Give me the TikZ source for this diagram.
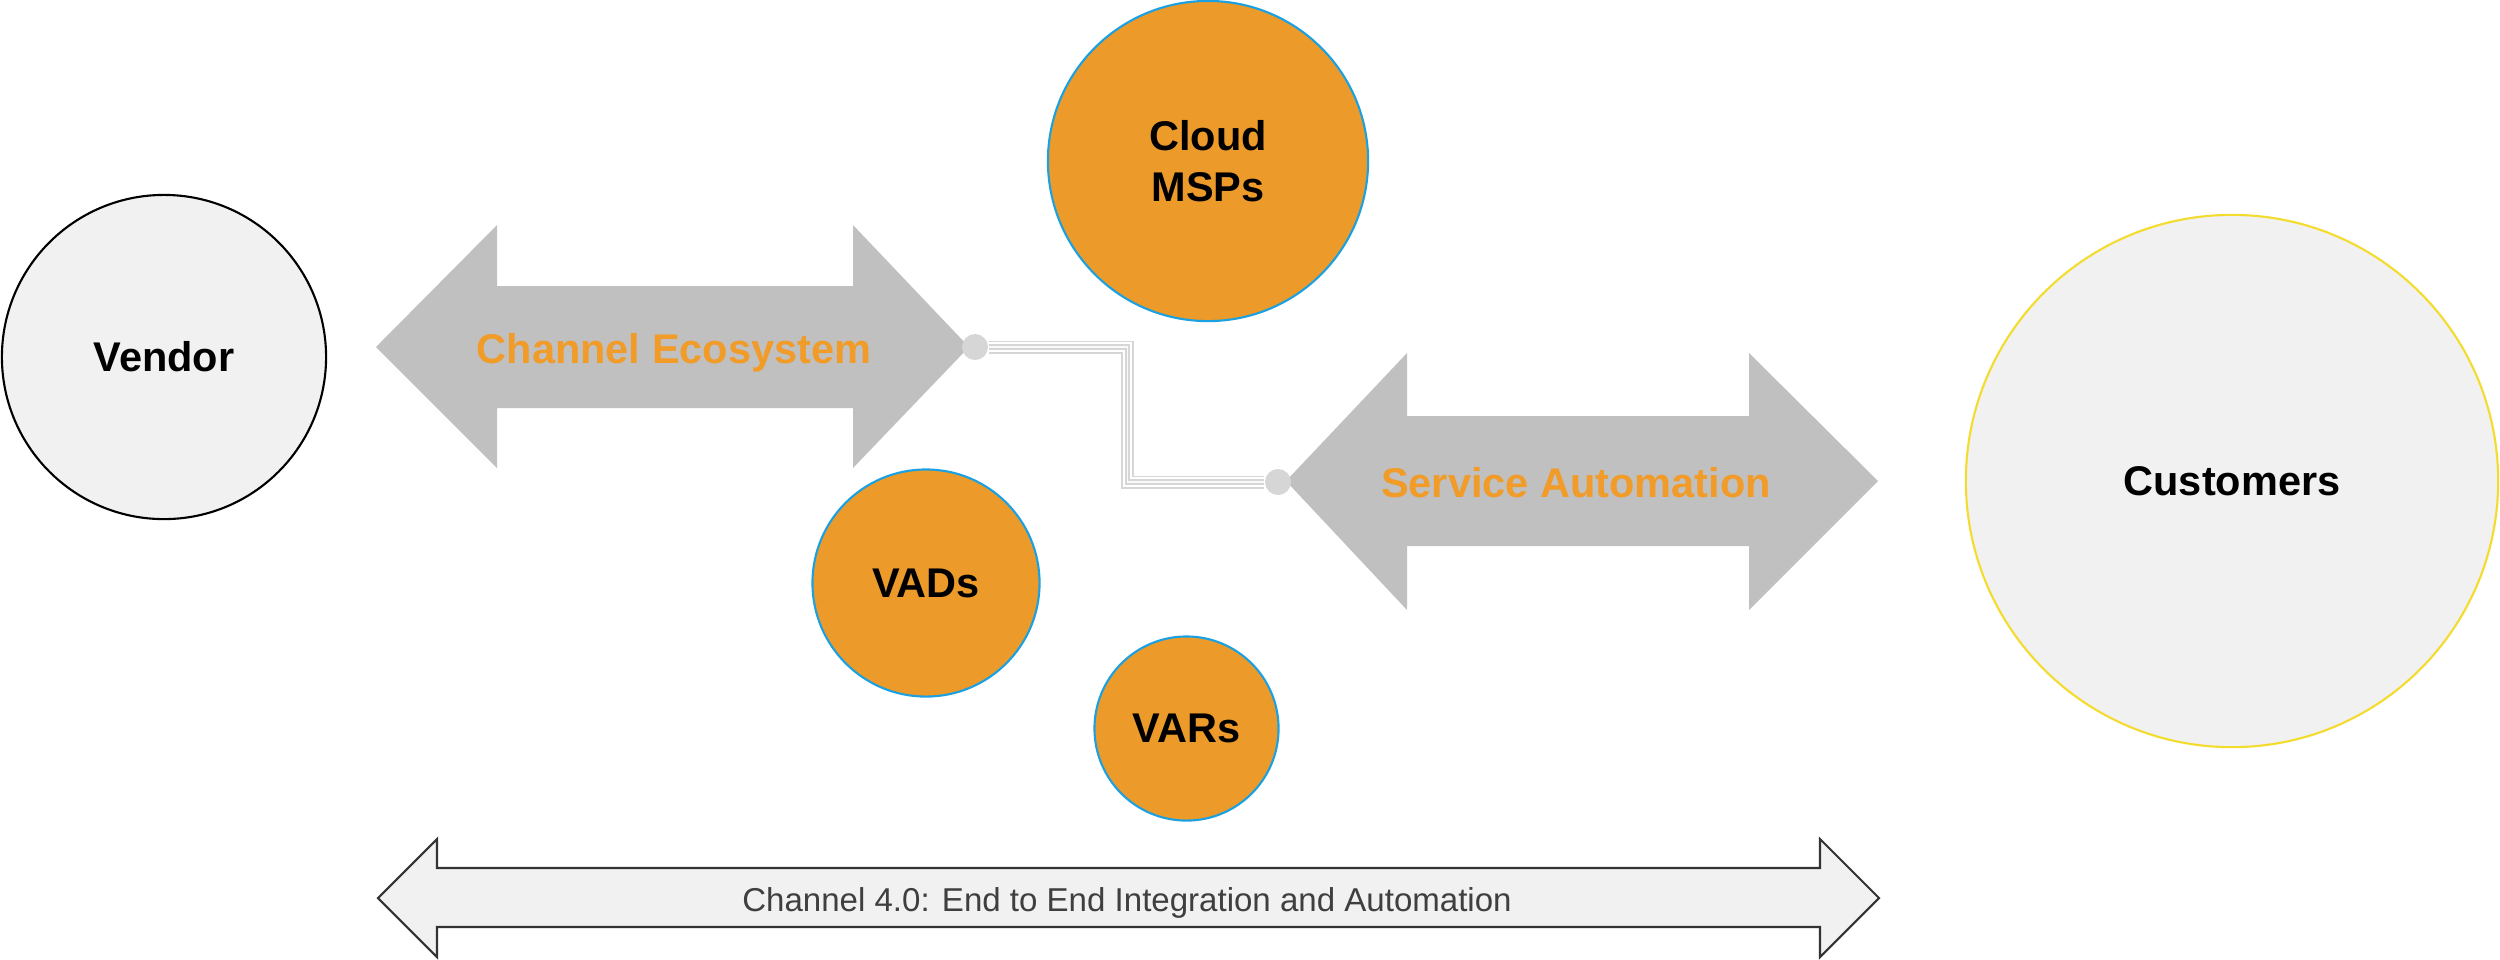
\documentclass[tikz,border=0pt]{standalone}
\usepackage{fontspec}
\setmainfont{Liberation Sans}
\definecolor{orangefill}{HTML}{EC9A29}
\definecolor{blueline}{HTML}{1BA1E2}
\definecolor{textorange}{HTML}{F19B29}
\definecolor{arrowgray}{HTML}{C0C0C0}
\definecolor{dotgray}{HTML}{D6D6D6}
\definecolor{lightfill}{HTML}{F1F1F1}
\definecolor{yellowline}{HTML}{F3DC2E}
\definecolor{darktext}{HTML}{3F3F3F}
\begin{document}
\begin{tikzpicture}[x=0.01cm,y=-0.01cm,
  bigfont/.style={font=\fontsize{11.8}{14.5}\selectfont\bfseries},
  bubble/.style={circle,inner sep=0pt,line width=0.6pt,bigfont,text=black,align=center},
  partner/.style={bubble,fill=orangefill,draw=blueline},
  band/.style={fill=arrowgray},
  bandlabel/.style={bigfont,text=textorange,anchor=base,inner sep=0pt},
  dotnode/.style={circle,fill=dotgray,inner sep=0pt,minimum size=0.26cm},
  wireout/.style={draw=dotgray,line width=0.13cm},
  wiregap/.style={draw=white,line width=0.095cm},
  wirein/.style={draw=dotgray,line width=0.055cm},
  wirecore/.style={draw=white!85!dotgray,line width=0.015cm},
  endband/.style={fill=lightfill,draw=black!80,line width=0.6pt,line join=miter}
]
\useasboundingbox (0,0) rectangle (2500,959);

% circles
\node[bubble,fill=lightfill,draw=black,minimum size=3.24cm] (vendor) at (164,357) {Vendor};
\node[bubble,fill=lightfill,draw=yellowline,minimum size=5.32cm] (customers) at (2232,481) {Customers};
\node[partner,minimum size=3.2cm,text depth=0pt] (cloud) at (1208,161) {Cloud\\MSPs};
\node[partner,minimum size=2.27cm] (vads) at (926,583) {VADs};
\node[partner,minimum size=1.84cm] (vars) at (1186.5,728.5) {VARs};

% Channel Ecosystem double arrow
\path[band] (376,347) -- (497,225) -- (497,286) -- (853,286) -- (853,225) -- (969,347)
  -- (853,468) -- (853,408) -- (497,408) -- (497,468) -- cycle;
\node[bandlabel] (eco) at (674,363) {Channel Ecosystem};

% Service Automation double arrow
\path[band] (1286,481) -- (1407,353) -- (1407,416) -- (1749,416) -- (1749,353) -- (1878,481)
  -- (1749,610) -- (1749,546) -- (1407,546) -- (1407,610) -- cycle;
\node[bandlabel] (svc) at (1576,497.5) {Service Automation};

% connector dots
\node[dotnode] (d1) at (975,347) {};
\node[dotnode] (d2) at (1278,482) {};

% connector (striped line)
\foreach \s in {wireout,wiregap,wirein,wirecore}{
  \path[\s] (d1.east) -- ++(139,0) |- (d2.west);
}

% bottom double arrow
\path[endband] (378,898) -- (437,839) -- (437,868) -- (1820,868) -- (1820,839) -- (1879,898)
  -- (1820,957) -- (1820,927) -- (437,927) -- (437,957) -- cycle;
\node[anchor=base,inner sep=0pt,text=darktext,font=\fontsize{9.4}{11}\selectfont] (ch4) at (1127,911)
  {Channel 4.0: End to End Integration and Automation};
\end{tikzpicture}
\end{document}
